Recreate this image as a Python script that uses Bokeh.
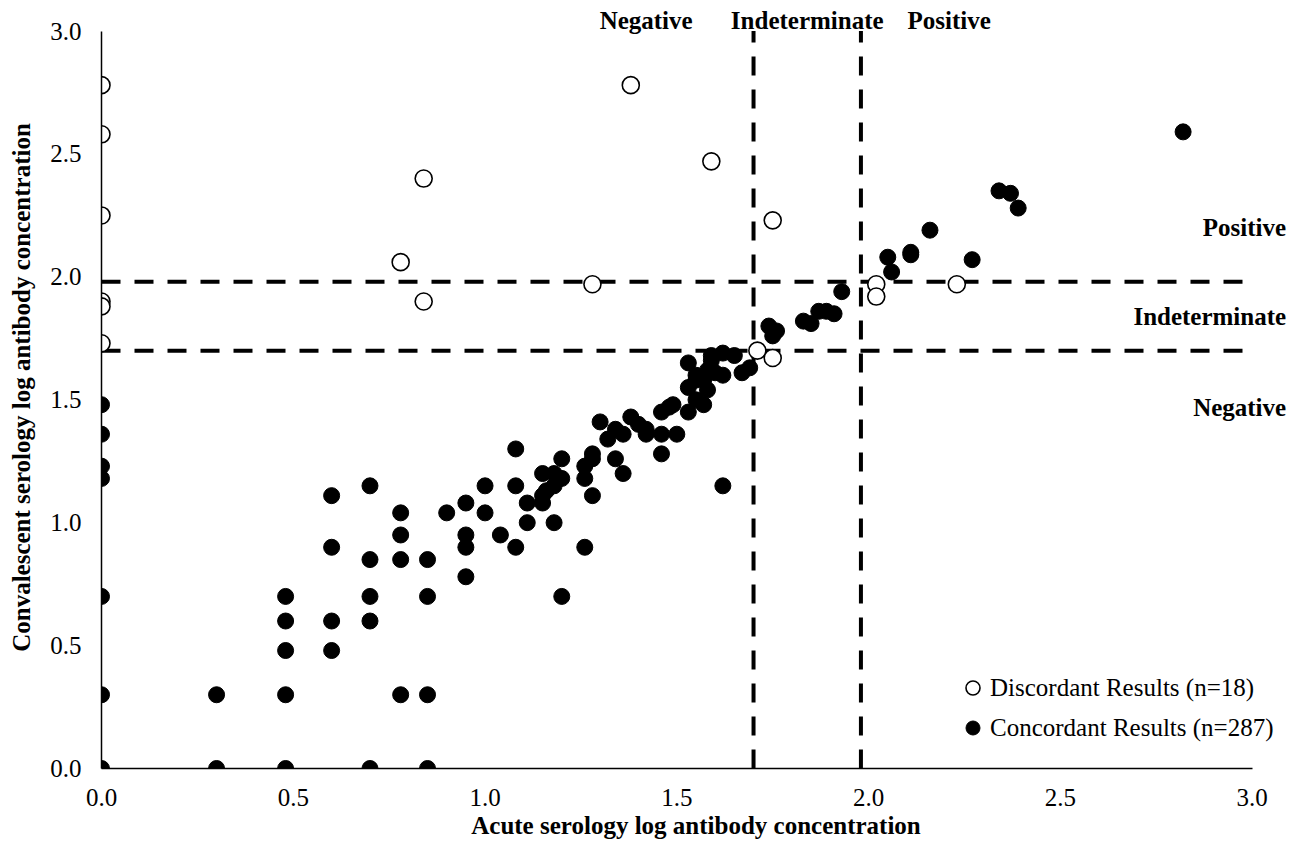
from bokeh.plotting import figure
from bokeh.models import (Range1d, FixedTicker, NumeralTickFormatter, Label,
                          Legend, LegendItem, ColumnDataSource)
from bokeh.embed import file_html
from bokeh.resources import INLINE

# ---------------- data (log10 antibody concentrations) ----------------
discordant_acute = [0.00, 0.00, 0.00, 0.00, 0.00, 0.00, 0.78, 0.84, 0.84, 1.28,
                    1.38, 1.59, 1.75, 1.71, 1.75, 2.02, 2.02, 2.23]
discordant_conv = [2.78, 2.58, 2.25, 1.90, 1.88, 1.73, 2.06, 2.40, 1.90, 1.97,
                   2.78, 2.47, 2.23, 1.70, 1.67, 1.97, 1.92, 1.97]

concordant_acute = [
    0.00, 0.00, 0.00, 0.00, 0.00, 0.00, 0.00,
    0.30, 0.30,
    0.48, 0.48, 0.48, 0.48, 0.48,
    0.60, 0.60, 0.60, 0.60,
    0.70, 0.70, 0.70, 0.70, 0.70,
    0.78, 0.78, 0.78, 0.78,
    0.85, 0.85, 0.85, 0.85,
    0.90,
    0.95, 0.95, 0.95, 0.95,
    1.00, 1.00,
    1.04,
    1.08, 1.08, 1.08,
    1.11, 1.11,
    1.15, 1.15, 1.15,
    1.16,
    1.18, 1.18, 1.18,
    1.20, 1.20, 1.20,
    1.26, 1.26, 1.26,
    1.28, 1.28, 1.28,
    1.30, 1.32,
    1.34, 1.34,
    1.36, 1.36,
    1.38, 1.40,
    1.42, 1.42,
    1.46, 1.46, 1.46,
    1.48, 1.49, 1.50,
    1.53, 1.53, 1.53,
    1.55, 1.55, 1.55,
    1.57, 1.57,
    1.58, 1.58,
    1.59, 1.59,
    1.60,
    1.62, 1.62, 1.62,
    1.65, 1.67, 1.69,
    1.74, 1.76, 1.75,
    1.83, 1.85, 1.87, 1.89, 1.91, 1.93,
    2.05, 2.06, 2.11, 2.11, 2.16, 2.27,
    2.34, 2.37, 2.39, 2.82,
]
concordant_conv = [
    1.48, 1.36, 1.23, 1.18, 0.70, 0.30, 0.00,
    0.30, 0.00,
    0.70, 0.60, 0.48, 0.30, 0.00,
    1.11, 0.90, 0.60, 0.48,
    1.15, 0.85, 0.70, 0.60, 0.00,
    1.04, 0.95, 0.85, 0.30,
    0.85, 0.70, 0.30, 0.00,
    1.04,
    1.08, 0.95, 0.90, 0.78,
    1.15, 1.04,
    0.95,
    1.30, 1.15, 0.90,
    1.08, 1.00,
    1.20, 1.11, 1.08,
    1.13,
    1.20, 1.15, 1.00,
    1.26, 1.18, 0.70,
    1.23, 1.18, 0.90,
    1.28, 1.26, 1.11,
    1.41, 1.34,
    1.38, 1.26,
    1.36, 1.20,
    1.43, 1.40,
    1.38, 1.36,
    1.45, 1.36, 1.28,
    1.47, 1.48, 1.36,
    1.45, 1.55, 1.65,
    1.50, 1.58, 1.60,
    1.48, 1.58,
    1.54, 1.62,
    1.66, 1.68,
    1.61,
    1.69, 1.60, 1.15,
    1.68, 1.61, 1.63,
    1.80, 1.78, 1.76,
    1.82, 1.81, 1.86, 1.86, 1.85, 1.94,
    2.08, 2.02, 2.10, 2.09, 2.19, 2.07,
    2.35, 2.34, 2.28, 2.59,
]

cut_low = 1.70    # negative / indeterminate
cut_high = 1.98   # indeterminate / positive
axis_max = 3.0
tick_values = [0.0, 0.5, 1.0, 1.5, 2.0, 2.5, 3.0]
zone_names = ["Negative", "Indeterminate", "Positive"]
legend_labels = ["Discordant Results (n=18)", "Concordant Results (n=287)"]
x_title = "Acute serology log antibody concentration"
y_title = "Convalescent serology log antibody concentration"

FONT = "Liberation Serif"
FS = "25px"

# frame: x 0..3.1 (axis drawn 0..3), y 0..3.1 (axis drawn 0..3)
p = figure(width=1304, height=841, output_backend="svg", toolbar_location=None,
           x_range=Range1d(0, 3.1), y_range=Range1d(0, 3.1),
           min_border_left=101, min_border_right=14, min_border_top=6,
           min_border_bottom=72)
p.outline_line_color = None
p.grid.visible = False
p.background_fill_color = "white"

for ax in (p.xaxis[0], p.yaxis[0]):
    ax.bounds = (0, axis_max)
    ax.ticker = FixedTicker(ticks=tick_values)
    ax.formatter = NumeralTickFormatter(format="0.0")
    ax.major_tick_line_color = None
    ax.minor_tick_line_color = None
    ax.major_tick_out = 0
    ax.major_tick_in = 0
    ax.axis_line_color = "black"
    ax.axis_line_width = 1.5
    ax.major_label_text_font = FONT
    ax.major_label_text_font_size = FS
    ax.major_label_text_color = "black"
    ax.axis_label_text_font = FONT
    ax.axis_label_text_font_size = FS
    ax.axis_label_text_font_style = "bold"
    ax.axis_label_text_color = "black"

p.xaxis[0].axis_label = x_title
p.xaxis[0].major_label_standoff = 20
p.xaxis[0].axis_label_standoff = 3
p.yaxis[0].axis_label = y_title
p.yaxis[0].major_label_standoff = 20
p.yaxis[0].axis_label_standoff = 12

# threshold lines (drawn first so the points sit on top)
cuts = [cut_low, cut_high]
p.segment(x0=cuts, x1=cuts, y0=[0, 0], y1=[axis_max, axis_max],
          line_color="black", line_width=4, line_dash="19 14")
p.segment(x0=[0, 0], x1=[axis_max, axis_max], y0=cuts, y1=cuts,
          line_color="black", line_width=4, line_dash="19 14")

conc_src = ColumnDataSource(dict(x=concordant_acute, y=concordant_conv))
disc_src = ColumnDataSource(dict(x=discordant_acute, y=discordant_conv))
r_conc = p.scatter("x", "y", source=conc_src, size=16, fill_color="black",
                   line_color="black", line_width=1)
r_disc = p.scatter("x", "y", source=disc_src, size=17, fill_color="white",
                   line_color="black", line_width=1.6)

legend = Legend(items=[LegendItem(label=legend_labels[0], renderers=[r_disc]),
                       LegendItem(label=legend_labels[1], renderers=[r_conc])],
                location=(854, 23), padding=0, margin=0, spacing=5,
                glyph_width=35, glyph_height=35, label_standoff=-10,
                border_line_color=None, background_fill_alpha=0,
                label_text_font=FONT, label_text_font_size=FS,
                label_text_color="black")
p.add_layout(legend)

# zone labels along the top (acute) and on the right (convalescent)
top_x = [cut_low - 0.28, (cut_low + cut_high) / 2, cut_high + 0.23]
for name, xv in zip(zone_names, top_x):
    p.add_layout(Label(x=xv, y=axis_max, y_offset=11, text=name,
                       text_align="center", text_baseline="middle",
                       text_font=FONT, text_font_size=FS,
                       text_font_style="bold", text_color="black"))
right_y = [cut_low - 0.23, (cut_low + cut_high) / 2, cut_high + 0.22]
for name, yv in zip(zone_names, right_y):
    p.add_layout(Label(x=axis_max, y=yv, x_offset=34, text=name,
                       text_align="right", text_baseline="middle",
                       text_font=FONT, text_font_size=FS,
                       text_font_style="bold", text_color="black"))

open("out.html", "w").write(file_html(p, INLINE))
